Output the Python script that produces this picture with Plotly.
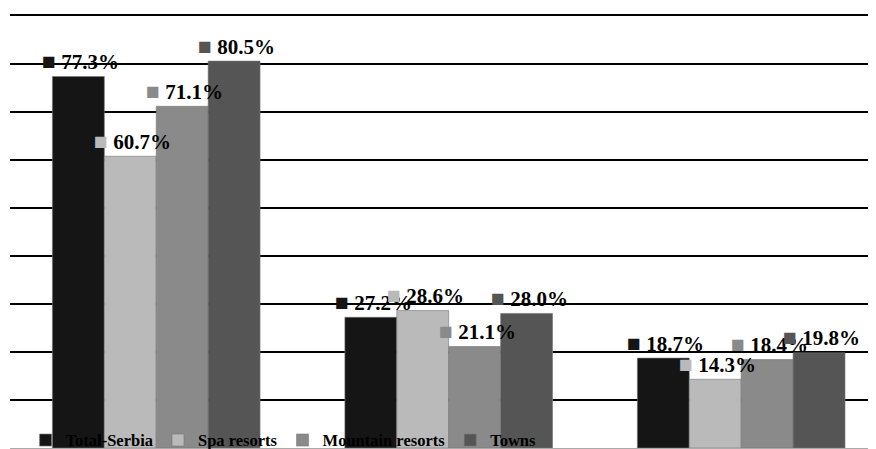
import plotly.graph_objects as go

categories = ["Total", "Spa", "Mountain"]
series_names = ["Total-Serbia", "Spa resorts", "Mountain resorts", "Towns"]
total_serbia = [77.3, 27.2, 18.7]
spa_resorts = [60.7, 28.6, 14.3]
mountain_resorts = [71.1, 21.1, 18.4]
towns = [80.5, 28.0, 19.8]
colors = ["#151515", "#bababa", "#8a8a8a", "#555555"]

series_values = [total_serbia, spa_resorts, mountain_resorts, towns]

FONT = "Liberation Serif, Times New Roman, serif"
bargap = 0.29
n = len(series_values)
bw = (1 - bargap) / n

fig = go.Figure()
for name, vals, col in zip(series_names, series_values, colors):
    fig.add_trace(go.Bar(
        name=name, x=list(range(len(categories))), y=vals,
        marker=dict(color=col, line=dict(color="#777777", width=0.6)),
    ))

annotations = []
for j, (vals, col) in enumerate(zip(series_values, colors)):
    for i, v in enumerate(vals):
        left = i - (1 - bargap) / 2 + j * bw
        annotations.append(dict(
            x=left, y=v, xref="x", yref="y",
            xanchor="left", yanchor="middle", xshift=-12, yshift=15,
            showarrow=False,
            text=f'<span style="font-size:23px;color:{col}">■</span> <b>{v:.1f}%</b>',
            font=dict(family=FONT, size=21, color="#000000"),
        ))

# page body has an 8px default margin; figure sized so the plot fills the window
fig.update_layout(
    width=868, height=441,
    margin=dict(l=2, r=0, t=6, b=1, autoexpand=False),
    paper_bgcolor="white", plot_bgcolor="white",
    barmode="group", bargap=bargap, bargroupgap=0,
    showlegend=True,
    legend=dict(
        orientation="h", x=0.018, xanchor="left", y=0.058, yanchor="top",
        bgcolor="rgba(0,0,0,0)", font=dict(family=FONT, size=16.5, color="#000000", weight="bold"),
        itemwidth=30,
    ),
    annotations=annotations,
    xaxis=dict(range=[-0.5, 2.461], showticklabels=False, showgrid=False, zeroline=False,
               showline=False, ticks=""),
    yaxis=dict(range=[0, 90.3], dtick=10, showticklabels=False, showgrid=True,
               gridcolor="#000000", gridwidth=2, zeroline=True, zerolinecolor="#aaaaaa",
               zerolinewidth=1, ticks=""),
)

fig.write_html("out.html")
